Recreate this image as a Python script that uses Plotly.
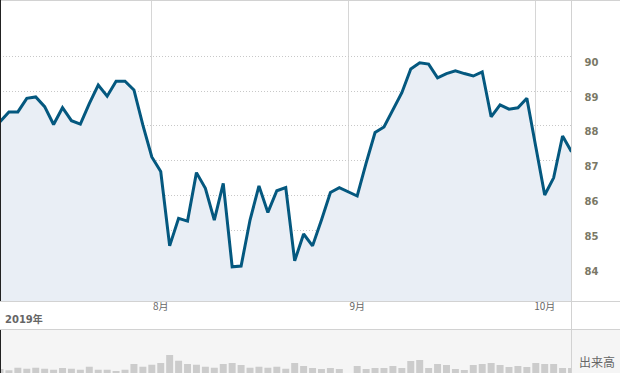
import pandas as pd
import plotly.graph_objects as go

# Weekday slots (US market, 2019-07-09 .. 2019-10-07)
dates = [d.strftime("%Y-%m-%d") for d in pd.bdate_range("2019-07-09", "2019-10-07")]

price = [
    88.12, 88.40, 88.40, 88.79, 88.83, 88.55, 88.04, 88.52, 88.15, 88.05,
    88.64, 89.17, 88.85, 89.28, 89.28, 89.03, 88.02, 87.11, 86.69, 84.56,
    85.35, 85.27, 86.66, 86.21, 85.30, 86.35, 83.96, 83.98, 85.30, 86.28,
    85.52, 86.14, 86.23, 84.13, 84.90, 84.56, 85.30, 86.09, 86.23, None,
    85.99, 86.93, 87.81, 87.97, 88.45, 88.95, 89.63, 89.81, 89.77, 89.38,
    89.50, 89.58, 89.50, 89.43, 89.55, 88.26, 88.60, 88.48, 88.52, 88.79,
    87.40, 86.02, 86.51, 87.71, 87.26,
]

volume = [
    4.0, 2.7, 5.3, 4.3, 5.3, 4.3, 3.3, 5.0, 4.3, 3.3,
    6.3, 3.3, 3.3, 2.0, 3.3, 9.0, 6.3, 8.3, 10.0, 18.0,
    12.3, 9.0, 8.3, 6.3, 5.3, 9.0, 10.0, 8.0, 5.3, 6.3,
    5.3, 6.3, 4.3, 10.0, 7.0, 5.0, 4.0, 5.0, 4.0, None,
    7.0, 4.0, 5.0, 5.0, 7.0, 5.0, 12.0, 13.0, 5.0, 9.0,
    8.0, 4.0, 3.0, 8.0, 9.0, 10.0, 8.0, 6.0, 7.0, 6.0,
    10.0, 9.0, 9.0, 5.0, 5.0,
]

month_ticks = ["2019-08-01", "2019-09-02", "2019-10-01"]
month_labels = ["8月", "9月", "10月"]
price_ticks = [84, 85, 86, 87, 88, 89, 90]
year_label = "2019年"
volume_label = "出来高"

W, H = 620, 373
PLOT_RIGHT = 571.5
MAIN_TOP, MAIN_BOTTOM = 1, 301
VOL_TOP = 330


def py(px):
    return (H - px) / H


fig = go.Figure()
fig.add_trace(go.Scatter(
    x=dates, y=price, mode="lines", connectgaps=True,
    line=dict(color="#04587f", width=3),
    fill="tozeroy", fillcolor="#e9eef5",
    xaxis="x", yaxis="y", hoverinfo="skip",
))
fig.add_trace(go.Bar(
    x=dates, y=volume, marker=dict(color="#cccccc", line=dict(width=0)),
    xaxis="x2", yaxis="y2", hoverinfo="skip",
))

grey_line = "#d2d2d2"
shapes = [
    dict(type="rect", xref="paper", yref="paper", x0=0, x1=1, y0=0, y1=py(VOL_TOP),
         fillcolor="#f5f5f5", line=dict(width=0), layer="below"),
    dict(type="line", xref="paper", yref="paper", x0=0, x1=1, y0=py(0.5), y1=py(0.5),
         line=dict(color=grey_line, width=1)),
    dict(type="line", xref="paper", yref="paper", x0=0, x1=1, y0=py(301.5), y1=py(301.5),
         line=dict(color=grey_line, width=1)),
    dict(type="line", xref="paper", yref="paper", x0=0, x1=1, y0=py(329.5), y1=py(329.5),
         line=dict(color=grey_line, width=1)),
    dict(type="line", xref="paper", yref="paper", x0=PLOT_RIGHT / W, x1=PLOT_RIGHT / W,
         y0=0, y1=1, line=dict(color=grey_line, width=1)),
    dict(type="line", xref="paper", yref="paper", x0=0.5 / W, x1=0.5 / W,
         y0=py(301), y1=1, line=dict(color="#222222", width=1)),
    dict(type="line", xref="paper", yref="paper", x0=0.5 / W, x1=0.5 / W,
         y0=0, y1=py(330), line=dict(color="#222222", width=1)),
]

fig.update_layout(
    width=W, height=H,
    margin=dict(l=0, r=0, t=0, b=0),
    paper_bgcolor="white", plot_bgcolor="rgba(0,0,0,0)",
    showlegend=False, bargap=0.22,
    shapes=shapes,
    xaxis=dict(
        type="category", domain=[0, PLOT_RIGHT / W], anchor="y",
        range=[0, len(dates) - 1],
        tickmode="array", tickvals=month_ticks, ticktext=month_labels,
        showgrid=True, gridcolor="#d6d6d6", gridwidth=1,
        ticks="", showline=False, zeroline=False,
        tickfont=dict(family="Noto Sans CJK JP", size=10, color="#666666"),
        ticklabelshift=9, ticklabelstandoff=-2,
    ),
    yaxis=dict(
        domain=[py(MAIN_BOTTOM), py(MAIN_TOP)], anchor="x", side="right",
        range=[82.98, 91.58],
        tickmode="array", tickvals=price_ticks,
        showgrid=True, gridcolor="#c8c8c8", gridwidth=1, griddash="1px,2px",
        zeroline=False, showline=False, ticks="",
        tickfont=dict(family="DejaVu Sans", size=10, color="#7a7866", weight="bold"),
        ticklabelshift=6, ticklabelstandoff=12,
    ),
    xaxis2=dict(
        type="category", domain=[0, PLOT_RIGHT / W], anchor="y2", matches="x",
        showticklabels=False, showgrid=False, zeroline=False, showline=False, ticks="",
    ),
    yaxis2=dict(
        domain=[0, py(VOL_TOP)], anchor="x2", range=[0, H - VOL_TOP],
        showticklabels=False, showgrid=False, zeroline=False, showline=False, ticks="",
    ),
    annotations=[
        dict(text=year_label, xref="paper", yref="paper", x=3 / W, y=py(318.5),
             xanchor="left", yanchor="middle", showarrow=False,
             font=dict(family="DejaVu Sans, Noto Sans CJK JP", size=10, color="#666666",
                       weight="bold")),
        dict(text=volume_label, xref="paper", yref="paper", x=(PLOT_RIGHT + 5) / W,
             y=py(361), xanchor="left", yanchor="middle", showarrow=False,
             font=dict(family="Noto Sans CJK JP", size=12, color="#666666")),
    ],
)

fig.write_html("out.html")
